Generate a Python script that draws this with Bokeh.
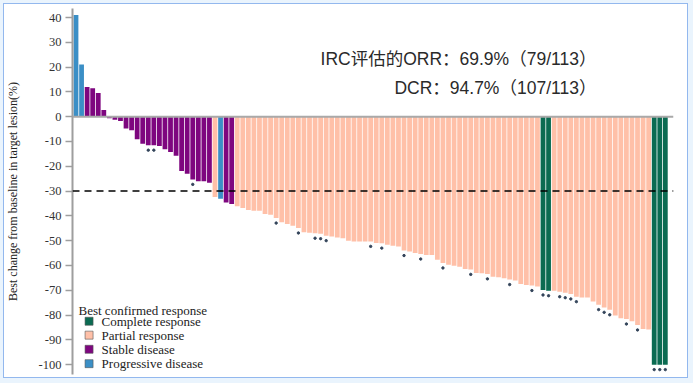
from bokeh.plotting import figure
from bokeh.models import ColumnDataSource, Span, Label, FixedTicker
from bokeh.embed import file_html
from bokeh.resources import INLINE
from bokeh.core.properties import value

# Best confirmed response per patient, ordered as plotted (waterfall)
responses = (
    ["PD", "PD"] + ["SD"] * 23 + ["PR", "PD", "SD", "SD"] + ["PR"] * 55
    + ["CR", "CR"] + ["PR"] * 18 + ["CR", "CR", "CR"]
)
# Best change from baseline in target lesion (%)
changes = [
    41.0, 21.0, 12.0, 11.5, 9.6, 2.7, -0.6, -1.2, -1.7, -4.8,
    -5.5, -9.1, -10.9, -11.5, -11.5, -11.8, -13.1, -14.2, -15.8, -21.9,
    -23.0, -25.3, -26.0, -26.0, -26.6, -32.4, -33.1, -34.6, -35.2, -36.1,
    -36.8, -37.6, -37.9, -37.9, -39.2, -39.5, -40.9, -42.6, -43.3, -44.0,
    -44.9, -46.6, -46.8, -47.0, -47.2, -48.0, -48.3, -48.7, -49.0, -50.0,
    -50.3, -50.3, -50.3, -50.3, -50.9, -51.0, -51.6, -52.0, -52.4, -54.0,
    -54.4, -55.0, -55.4, -55.8, -55.8, -57.7, -59.0, -59.7, -60.1, -60.5,
    -61.4, -61.6, -63.0, -63.1, -63.4, -64.5, -64.8, -65.2, -65.7, -66.1,
    -67.5, -67.9, -68.1, -68.5, -69.9, -70.2, -70.2, -70.6, -71.0, -71.5,
    -72.6, -72.9, -72.9, -74.5, -75.8, -76.9, -77.9, -80.2, -81.3, -81.6,
    -82.5, -84.0, -85.6, -85.8, -100.0, -100.0, -100.0,
]
# Patients (1-based position in the waterfall) flagged with a marker
marked = [14, 15, 22, 37, 41, 44, 45, 46, 54, 56, 60, 63, 67, 72, 75, 79, 83,
          85, 86, 88, 89, 90, 91, 95, 96, 97, 100, 102, 105, 106, 107]

categories = ["CR", "PR", "SD", "PD"]
category_labels = ["Complete response", "Partial response", "Stable disease", "Progressive disease"]
colors = ["#0b6b52", "#ffc0a8", "#7e067f", "#3b8fc6"]

yticks = list(range(-100, 41, 10))
threshold = -30
orr_text = "IRC评估的ORR：69.9%（79/113）"
dcr_text = "DCR：94.7%（107/113）"
y_label = "Best change from baseline in target lesion(%)"
legend_title = "Best confirmed response"

n = len(changes)
xs = list(range(n))

frame_css = {
    "background": "white",
    "box-shadow": ("inset 3px 3px 0 0 #eaf4fd, inset -5px -5px 0 0 #eaf4fd, "
                   "inset 4px 4px 0 0 #93b8ee, inset -6px -6px 0 0 #93b8ee"),
}

p = figure(width=693, height=383, x_range=(-0.63, 107.47), y_range=(-103.97, 43.63),
           output_backend="svg", toolbar_location=None, x_axis_location=None,
           min_border_left=72, min_border_right=20, min_border_top=8, min_border_bottom=9,
           styles=frame_css)
p.outline_line_color = None
p.grid.visible = False
p.background_fill_color = "white"
p.border_fill_color = None

for cat, col in zip(categories, colors):
    idx = [i for i in xs if responses[i] == cat]
    src = ColumnDataSource(dict(x=idx, top=[changes[i] for i in idx]))
    p.vbar(x="x", top="top", bottom=0, width=0.86, source=src,
           fill_color=col, line_color=None)

mx = [m - 1 for m in marked]
my = [changes[m - 1] - 2.0 for m in marked]
p.scatter(x=mx, y=my, size=2.4, color="#33445a")

p.add_layout(Span(location=0, dimension="width", line_color="#a9a9a9", line_width=2))
p.add_layout(Span(location=threshold, dimension="width", line_color="black",
                  line_width=1.5, line_dash="7 5"))

ax = p.yaxis[0]
ax.ticker = FixedTicker(ticks=yticks)
ax.major_label_overrides = {t: str(t) for t in yticks}
ax.axis_line_color = "#9e9e9e"
ax.axis_line_width = 2
ax.major_tick_line_color = "#9e9e9e"
ax.major_tick_line_width = 1.5
ax.major_tick_out = 7
ax.major_tick_in = 0
ax.minor_tick_line_color = None
ax.major_label_text_font = "Liberation Serif"
ax.major_label_text_font_size = "12.5px"
ax.major_label_text_color = "#333333"
ax.major_label_standoff = 4
ax.axis_label = y_label
ax.axis_label_text_font = "Liberation Serif"
ax.axis_label_text_font_size = "12px"
ax.axis_label_text_font_style = "normal"
ax.axis_label_text_color = "#222222"
ax.axis_label_standoff = 16

for txt, yy in [(orr_text, 23.2), (dcr_text, 11.5)]:
    p.add_layout(Label(x=93.6, y=yy, text=txt, text_align="right", text_baseline="alphabetic",
                       text_font="Liberation Sans, Noto Sans CJK SC",
                       text_font_size="17.5px", text_color="#2a2a2a"))

# Legend (drawn by hand for the compact 14px row pitch of the original)
p.add_layout(Label(x=0.45, y=-78.3, text=legend_title, text_baseline="alphabetic",
                   text_font="Liberation Serif", text_font_size="13px",
                   text_color="#222222"))
leg_rows = [-82.5, -88.1, -93.8, -99.6]
leg_src = ColumnDataSource(dict(
    gx=[2.35] * len(categories), tx=[4.6] * len(categories), y=leg_rows,
    color=colors, label=category_labels))
p.scatter(x="gx", y="y", source=leg_src, marker="square", size=8,
          fill_color="color", line_color="#555555", line_width=0.6)
p.text(x="tx", y="y", text="label", source=leg_src, text_baseline="middle",
       text_font=value("Liberation Serif"), text_font_size="13px", text_color="#222222")

open("out.html", "w").write(file_html(p, INLINE))
